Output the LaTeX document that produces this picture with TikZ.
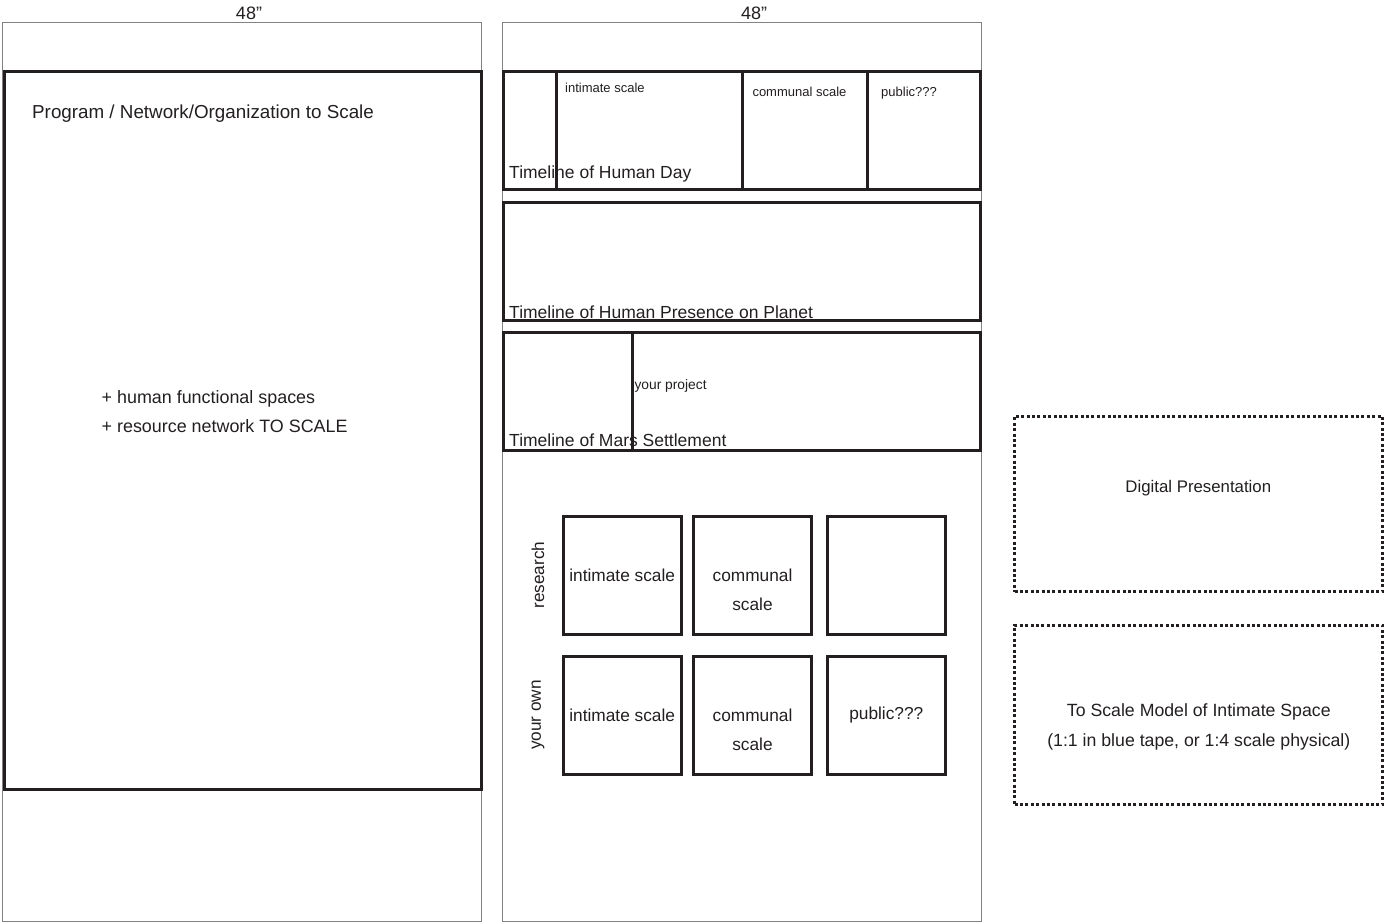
\documentclass[tikz,border=0pt]{standalone}
\usepackage{fontspec}
\setmainfont{Liberation Sans}
\definecolor{ink}{RGB}{35, 31, 32}
\definecolor{sheetgray}{RGB}{130, 130, 130}
\usetikzlibrary{positioning}

\tikzset{
  sheet/.style={draw=sheetgray, line width=1.2pt},
  band/.style={draw=ink, line width=3pt},
  cell/.style={draw=ink, line width=3pt, minimum width=118pt, minimum height=118pt,
               inner sep=0pt, text=ink, font=\fontsize{17.3}{21}\selectfont},
  tape/.style={draw=ink, line width=2.6pt, dash pattern=on 3pt off 2.4pt},
  lbl/.style={text=ink, inner sep=0pt, font=\fontsize{17.5}{21}\selectfont},
  smalllbl/.style={text=ink, inner sep=0pt, font=\fontsize{13}{16}\selectfont},
}

\begin{document}
\begin{tikzpicture}[x=1pt, y=-1pt]
    \useasboundingbox (0,0) rectangle (1386,923);

    % the two 48" sheets
    \draw[sheet] (2.5,22.5) rectangle (481.5,921.5);
    \draw[sheet] (502.5,22.5) rectangle (981.5,921.5);
    \node[lbl, anchor=base, font=\fontsize{18}{21}\selectfont] (widthA) at (249,20) {48”};
    \node[lbl, anchor=base, font=\fontsize{18}{21}\selectfont] (widthB) at (754,20) {48”};

    % left sheet
    \draw[band] (4,71.5) rectangle (481,789);
    \node[lbl, anchor=base west, font=\fontsize{18.8}{22}\selectfont] (program) at (32,118)
        {Program / Network/Organization to Scale};
    \node[lbl, anchor=base west, font=\fontsize{17.9}{21}\selectfont] (spaces) at (101.5,403)
        {+ human functional spaces};
    \node[lbl, anchor=base west, font=\fontsize{17.9}{21}\selectfont] (network) at (101.5,432)
        {+ resource network TO SCALE};

    % timelines
    \draw[band] (503.5,71.5) rectangle (980.5,189);
    \foreach \xdiv in {556, 742, 867}
        \draw[band] (\xdiv,71.5) -- (\xdiv,189);
    \node[smalllbl, anchor=base west] (dayIntimate) at (565,92.5) {intimate scale};
    \node[smalllbl, anchor=base west] (dayCommunal) at (752.3,96.5) {communal scale};
    \node[smalllbl, anchor=base west] (dayPublic) at (881,96.5) {public???};
    \node[lbl, anchor=base west] (humanDay) at (509,178.3) {Timeline of Human Day};

    \draw[band] (503.5,202.5) rectangle (980.5,320);
    \node[lbl, anchor=base west] (planet) at (509,318.3) {Timeline of Human Presence on Planet};

    \draw[band] (503.5,332.5) rectangle (980.5,450);
    \draw[band] (632,332.5) -- (632,450);
    \node[smalllbl, anchor=base west, font=\fontsize{13.8}{16}\selectfont] (project) at (634.3,389.5) {your project};
    \node[lbl, anchor=base west] (mars) at (509,446.7) {Timeline of Mars Settlement};

    % research / your own grid
    \node[cell] (resIntimate) at (622.2,575.2) {intimate scale};
    \node[cell, right=9.3pt of resIntimate] (resCommunal) {};
    \node[cell, right=12.8pt of resCommunal] (resPublic) {};
    \node[cell, below=18.8pt of resIntimate] (ownIntimate) {intimate scale};
    \node[cell, below=18.8pt of resCommunal] (ownCommunal) {};
    \node[cell, below=18.8pt of resPublic] (ownPublic) {public???};

    \foreach \cname in {resCommunal, ownCommunal} {
        \node[lbl, anchor=base, font=\fontsize{17.3}{21}\selectfont] (\cname Top)
            at ([yshift=-6.5pt]\cname.center) {communal};
        \node[lbl, anchor=base, font=\fontsize{17.3}{21}\selectfont] (\cname Bottom)
            at ([yshift=-35.3pt]\cname.center) {scale};
    }

    \node[lbl, rotate=90, font=\fontsize{17.2}{21}\selectfont] (research) at (538,575) {research};
    \node[lbl, rotate=90, font=\fontsize{17.2}{21}\selectfont] (yourOwn) at (538,715) {your own};

    % dashed boxes
    \node[tape, minimum width=368pt, minimum height=175.5pt] (digital) at (1198.5,504) {};
    \node[lbl, anchor=base, font=\fontsize{16.8}{20}\selectfont] (digitalText) at (1198.3,492.7)
        {Digital Presentation};
    \node[tape, minimum width=368pt, minimum height=179.4pt, below=31pt of digital] (model) {};
    \node[lbl, anchor=base, font=\fontsize{17.7}{21}\selectfont] (modelText) at (1198.8,716.7)
        {To Scale Model of Intimate Space};
    \node[lbl, anchor=base, font=\fontsize{17.7}{21}\selectfont] (modelNote) at (1198.8,746.7)
        {(1:1 in blue tape, or 1:4 scale physical)};
\end{tikzpicture}
\end{document}
